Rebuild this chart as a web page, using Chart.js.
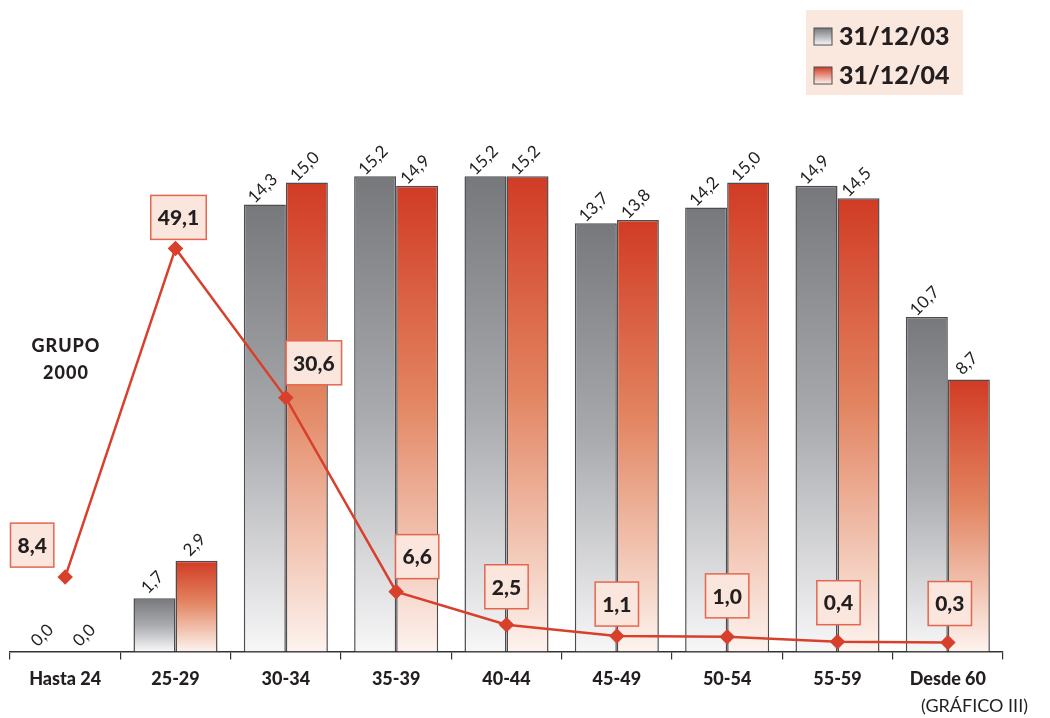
<!DOCTYPE html>
<html>
<head>
<meta charset="utf-8">
<script src="https://cdn.jsdelivr.net/npm/chart.js@4.4.0/dist/chart.umd.min.js"></script>
<style>
  html, body { margin: 0; padding: 0; background: #fff; }
  #wrap { position: relative; width: 1050px; height: 718px; }
  canvas { position: absolute; left: 0; top: 0; }
  .note { position: absolute; font-family: Lato, "DejaVu Sans", sans-serif; color: #231f20; }
</style>
</head>
<body>
<div id="wrap">
  <canvas id="chart" width="1050" height="718"></canvas>
  <div class="note" style="left:16px;top:332px;width:100px;text-align:center;font-weight:900;font-size:18px;letter-spacing:1px;line-height:27px;">GRUPO<br>2000</div>
  <div class="note" style="left:921px;top:694px;font-size:18px;">(GRÁFICO III)</div>
</div>
<script>
// age bands on the x axis
const ageGroups = ["Hasta 24", "25-29", "30-34", "35-39", "40-44", "45-49", "50-54", "55-59", "Desde 60"];
const seriesNames = ["31/12/03", "31/12/04"];
const values2003 = [0.0, 1.7, 14.3, 15.2, 15.2, 13.7, 14.2, 14.9, 10.7];
const values2004 = [0.0, 2.9, 15.0, 14.9, 15.2, 13.8, 15.0, 14.5, 8.7];
const grupo2000 = [8.4, 49.1, 30.6, 6.6, 2.5, 1.1, 1.0, 0.4, 0.3];

// where each boxed label sits relative to its point (layout only)
const boxNudge = [[-33, -32], [3, -31], [28, -35], [21, -35], [0, -38], [0, -32], [0, -41], [1, -39], [2, -39]];

const grayStops = [[0, "#77787c"], [0.5, "#a9aaae"], [1, "#f7f7f8"]];
const redStops = [[0, "#d13b25"], [0.45, "#e2835f"], [1, "#fdf3ee"]];

const fmt = (v) => v.toFixed(1).replace(".", ",");

function barGradient(stops) {
  return (c) => {
    const chart = c.chart;
    if (!chart.chartArea || c.type !== "data") return stops[0][1];
    const y = chart.scales.y;
    const top = y.getPixelForValue(c.raw);
    const bottom = y.getPixelForValue(0);
    if (bottom - top < 1) return stops[0][1];
    const g = chart.ctx.createLinearGradient(0, top, 0, bottom);
    stops.forEach(([p, col]) => g.addColorStop(p, col));
    return g;
  };
}

const barValueLabels = {
  id: "barValueLabels",
  afterDatasetsDraw(chart) {
    const ctx = chart.ctx;
    ctx.save();
    ctx.font = "17px Lato";
    ctx.fillStyle = "#231f20";
    ctx.textAlign = "center";
    ctx.textBaseline = "middle";
    [0, 1].forEach((di) => {
      chart.getDatasetMeta(di).data.forEach((bar, i) => {
        ctx.save();
        ctx.translate(bar.x - 2, bar.y - 16);
        ctx.rotate(-45 * Math.PI / 180);
        ctx.fillText(fmt(chart.data.datasets[di].data[i]), 0, 0);
        ctx.restore();
      });
    });
    ctx.restore();
  },
};

const lineBoxes = {
  id: "lineBoxes",
  afterDatasetsDraw(chart) {
    const ctx = chart.ctx;
    ctx.save();
    ctx.font = "900 21px Lato";
    ctx.textAlign = "center";
    ctx.textBaseline = "middle";
    chart.getDatasetMeta(2).data.forEach((pt, i) => {
      const t = fmt(grupo2000[i]);
      const w = ctx.measureText(t).width + 14;
      const h = 44;
      const cx = pt.x + boxNudge[i][0];
      const cy = pt.y + boxNudge[i][1];
      ctx.fillStyle = "#fae6dc";
      ctx.fillRect(cx - w / 2, cy - h / 2, w, h);
      ctx.strokeStyle = "#e5664f";
      ctx.lineWidth = 1.5;
      ctx.strokeRect(cx - w / 2, cy - h / 2, w, h);
      ctx.fillStyle = "#231f20";
      ctx.fillText(t, cx, cy + 1);
    });
    ctx.restore();
  },
};

const legendBox = {
  id: "legendBox",
  afterDraw(chart) {
    const ctx = chart.ctx;
    ctx.save();
    ctx.fillStyle = "#fae7de";
    ctx.fillRect(806, 10, 157, 85);
    [grayStops, redStops].forEach((stops, i) => {
      const y = 28 + i * 39;
      const g = ctx.createLinearGradient(0, y, 0, y + 17);
      g.addColorStop(0, stops[0][1]);
      g.addColorStop(1, stops[2][1]);
      ctx.fillStyle = g;
      ctx.fillRect(814, y, 18, 17);
      ctx.strokeStyle = "#4d4d4f";
      ctx.lineWidth = 1;
      ctx.strokeRect(814, y, 18, 17);
      ctx.fillStyle = "#231f20";
      ctx.font = "900 25px Lato";
      ctx.textBaseline = "middle";
      ctx.fillText(chart.data.datasets[i].label, 839, y + 9);
    });
    ctx.restore();
  },
};

new Chart(document.getElementById("chart"), {
  data: {
    labels: ageGroups,
    datasets: [
      {
        type: "bar",
        label: seriesNames[0],
        data: values2003,
        backgroundColor: barGradient(grayStops),
        borderColor: "#4d4d4f",
        borderWidth: 1.5,
        borderSkipped: "bottom",
        order: 2,
      },
      {
        type: "bar",
        label: seriesNames[1],
        data: values2004,
        backgroundColor: barGradient(redStops),
        borderColor: "#4d4d4f",
        borderWidth: 1.5,
        borderSkipped: "bottom",
        order: 2,
      },
      {
        type: "line",
        label: "GRUPO 2000",
        data: grupo2000,
        yAxisID: "y2",
        borderColor: "#d8402c",
        borderWidth: 2.5,
        pointStyle: "rectRot",
        pointRadius: 6,
        pointBackgroundColor: "#d8402c",
        pointBorderColor: "#d8402c",
        tension: 0,
        order: 1,
      },
    ],
  },
  options: {
    responsive: false,
    devicePixelRatio: 1,
    animation: false,
    layout: { padding: { left: 10, right: 47, top: 120, bottom: 19 } },
    datasets: { bar: { categoryPercentage: 0.762, barPercentage: 1 } },
    plugins: { legend: { display: false }, tooltip: { enabled: false } },
    scales: {
      x: {
        offset: true,
        grid: { display: true, drawOnChartArea: false, offset: true, tickLength: 8, color: "#333", lineWidth: 1.2 },
        border: { display: true, color: "#333", width: 1.5 },
        ticks: { color: "#231f20", font: { family: "Lato", weight: "900", size: 18 }, padding: 9, maxRotation: 0, autoSkip: false },
      },
      y: { display: false, min: 0, max: 17 },
      y2: { display: false, min: -0.8, max: 65 },
    },
  },
  plugins: [barValueLabels, lineBoxes, legendBox],
});
</script>
</body>
</html>
